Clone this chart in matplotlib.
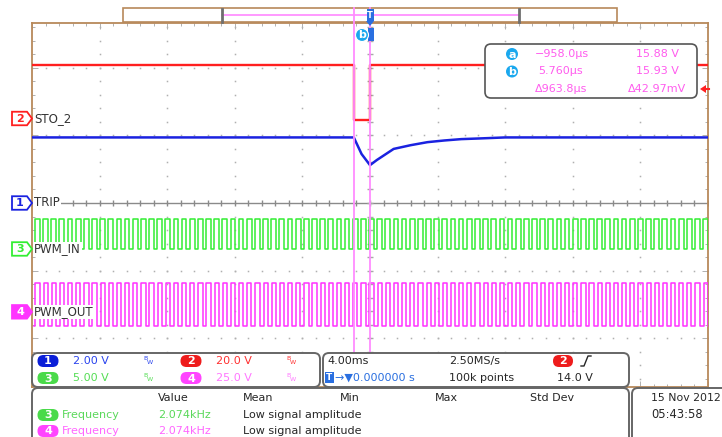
import numpy as np
import matplotlib
matplotlib.use("Agg")
import matplotlib.pyplot as plt
from matplotlib.patches import FancyBboxPatch, Rectangle, Polygon, Circle
from matplotlib.transforms import blended_transform_factory

plt.rcParams['font.family'] = ['DejaVu Sans']

W, H = 722, 437

# ---------------- acquisition settings ----------------
time_per_div = 4.0                      # ms / div
t_window = (-20.0, 20.0)                # ms
volts_per_div = {1: 2.0, 2: 20.0, 3: 5.0, 4: 25.0}
ground_div = {1: 0.0, 2: 1.25, 3: -0.68, 4: -1.61}   # ground level, divisions from centre
channel_names = {1: "TRIP", 2: "STO_2", 3: "PWM_IN", 4: "PWM_OUT"}
channel_colors = {1: "#1a22e0", 2: "#ff1f1f", 3: "#33ee33", 4: "#ff33ff"}

# ---------------- waveforms ----------------
# ch2 STO_2 (V)
sto_t = [-20.0, -0.958, -0.958, 0.00576, 0.00576, 20.0]
sto_v = [15.9, 15.9, -0.5, -0.5, 15.9, 15.9]

# ch1 TRIP (V)
trip_t = [-20.0, -0.958, -0.5, 0.0, 0.4, 1.4, 2.4, 3.4, 4.4, 5.4, 6.5, 8.0, 20.0]
trip_v = [1.94, 1.94, 1.45, 1.12, 1.27, 1.60, 1.71, 1.80, 1.85, 1.89, 1.91, 1.94, 1.94]

# ch3 / ch4 PWM
pwm_freq_khz = 2.074
pwm_in_levels = (0.0, 2.2)
pwm_out_levels = (-5.2, 10.7)
pwm_in_duty = 0.58
pwm_out_duty = 0.52
pwm_in_first_rise = -19.82      # ms
pwm_out_first_rise = -19.80     # ms

# cursors
cursor_a_t = -0.958
cursor_b_t = 0.00576
cursor_rows = [("a", "\u2212958.0\u00b5s", "15.88 V"),
               ("b", "5.760\u00b5s", "15.93 V"),
               (None, "\u0394963.8\u00b5s", "\u039442.97mV")]

# measurement table
meas_header = ["Value", "Mean", "Min", "Max", "Std Dev"]
meas_rows = [(3, "Frequency", "2.074kHz", "Low signal amplitude"),
             (4, "Frequency", "2.074kHz", "Low signal amplitude")]


def to_div(ch, volts):
    return ground_div[ch] + np.asarray(volts, dtype=float) / volts_per_div[ch]


def pwm_steps(first_rise, freq_khz, duty, lo, hi, t_start=-19.86, t_end=20.0):
    period = 1.0 / freq_khz
    ts, vs = [t_start], [lo]
    for r in np.arange(first_rise, t_end, period):
        ts += [r, r]
        vs += [lo, hi]
        f = r + duty * period
        if f < t_end:
            ts += [f, f]
            vs += [hi, lo]
    ts.append(t_end)
    vs.append(vs[-1])
    return np.array(ts), np.array(vs)


fig = plt.figure(figsize=(W / 100, H / 100), dpi=100)
fig.patch.set_facecolor("white")

# ---------------- graticule axes ----------------
px_top, px_bot, px_left, px_right = 23, 387, 32, 708
ax = fig.add_axes([px_left / W, 1 - px_bot / H, (px_right - px_left) / W, (px_bot - px_top) / H])
ax.set_zorder(1)
ax.set_xlim(*t_window)
div_px = (px_right - px_left) / 10.0
y_top = (203 - px_top) / div_px
y_bot = (203 - px_bot) / div_px
ax.set_ylim(y_bot, y_top)
ax.set_facecolor("white")
for s in ax.spines.values():
    s.set_color("#b8895a")
    s.set_linewidth(1.3)
ax.set_xticks(np.arange(-20, 20.1, time_per_div))
ax.set_xticks(np.arange(-20, 20.1, time_per_div / 5), minor=True)
ax.set_yticks(np.arange(-2, 2.1, 1))
ax.set_yticks(np.arange(-2.6, 2.61, 0.2), minor=True)
ax.tick_params(which="both", direction="in", top=True, right=True,
               labelbottom=False, labelleft=False, color="#b0b0b0", width=0.7)
ax.tick_params(which="major", length=4)
ax.tick_params(which="minor", length=2.5)

dot = dict(linestyle="none", marker="s", markersize=1.1, color="#b0b0b0",
           markeredgewidth=0, zorder=1)
minor_y = np.arange(-2.6, 2.61, 0.2)
minor_x = np.arange(-20, 20.01, time_per_div / 5)
for gx in np.arange(-16, 16.1, time_per_div):
    if abs(gx) > 1e-9:
        ax.plot(np.full_like(minor_y, gx), minor_y, **dot)
for gy in [-2, -1, 1, 2]:
    ax.plot(minor_x, np.full_like(minor_x, gy), **dot)

# centre axes with tick marks
ax.axhline(0, color="#8a8a8a", lw=1.0, zorder=2)
ax.plot(minor_x, np.zeros_like(minor_x), linestyle="none", marker="|",
        markersize=5, color="#8a8a8a", zorder=2)
ax.plot(np.zeros_like(minor_y), minor_y, linestyle="none", marker="_",
        markersize=5, color="#a8a8a8", zorder=2)

# ---------------- traces ----------------
ax.plot(trip_t, to_div(1, trip_v), color=channel_colors[1], lw=1.8, zorder=4)
ax.plot(sto_t, to_div(2, sto_v), color=channel_colors[2], lw=1.7, zorder=4)
t3, v3 = pwm_steps(pwm_in_first_rise, pwm_freq_khz, pwm_in_duty, *pwm_in_levels)
ax.plot(t3, to_div(3, v3), color=channel_colors[3], lw=1.1, zorder=3)
t4, v4 = pwm_steps(pwm_out_first_rise, pwm_freq_khz, pwm_out_duty, *pwm_out_levels)
ax.plot(t4, to_div(4, v4), color=channel_colors[4], lw=1.1, zorder=3)

# ---------------- overlay (screen annotations) ----------------
ov = fig.add_axes([0, 0, 1, 1])
ov.set_zorder(2)
ov.set_xlim(0, W)
ov.set_ylim(H, 0)
ov.axis("off")
ov.patch.set_alpha(0)

tx_time = blended_transform_factory(ax.transData, ov.transData)
tx_level = blended_transform_factory(ov.transData, ax.transData)

FS = 8
dark = "#262626"

# top memory bar
ov.add_patch(Rectangle((123, 8), 494, 14, facecolor="white", edgecolor="#b8895a", lw=1.2))
ov.plot([222, 519], [14.6, 14.6], color="#ff88ff", lw=1.2)
ov.plot([222, 222], [8.5, 21.5], color="#6f6f6f", lw=2)
ov.plot([519, 519], [8.5, 21.5], color="#6f6f6f", lw=2)

# cursor lines
for ct in (cursor_a_t, cursor_b_t):
    ov.plot([ct, ct], [8, 352], transform=tx_time, color="#ff8cff", lw=1.3, zorder=3)

# trigger marker at t=0
ov.add_patch(Rectangle((366.5, 9), 7, 12, facecolor="#2a6fe0", edgecolor="none", zorder=5))
ov.text(370, 15, "T", color="white", fontsize=6, ha="center", va="center",
        fontweight="bold", zorder=6)
ov.add_patch(Polygon([(366, 21), (374, 21), (370, 26)], closed=True,
                     facecolor="#2a6fe0", edgecolor="none", zorder=5))
ov.add_patch(Rectangle((368, 28), 6, 13, facecolor="#2a6fe0", edgecolor="none", zorder=5))
ov.add_patch(Circle((362, 35), 6.5, facecolor="#1aa8ee", edgecolor="white", lw=0.8, zorder=6))
ov.text(362, 35.5, "b", color="white", fontsize=8, fontweight="bold",
        ha="center", va="center", zorder=7)

# cursor readout box
ov.add_patch(FancyBboxPatch((485, 44), 212, 54, boxstyle="round,pad=0,rounding_size=6",
                            facecolor="white", edgecolor="#555555", lw=1.2, zorder=4))
cur_col = "#ff5cee"
for i, (tag, tval, vval) in enumerate(cursor_rows):
    yy = 54 + 17.5 * i
    if tag:
        ov.add_patch(Circle((512, yy), 6, facecolor="#1aa8ee", edgecolor="none", zorder=5))
        ov.text(512, yy + 0.5, tag, color="white", fontsize=8, fontweight="bold",
                ha="center", va="center", zorder=6)
    ov.text(535 if i != 1 else 538, yy, tval, color=cur_col, fontsize=FS, va="center", zorder=6)
    ov.text(636 if i != 2 else 628, yy, vval, color=cur_col, fontsize=FS, va="center", zorder=6)

# trigger level arrow (right edge)
ov.add_patch(Polygon([(700, 89), (706, 85), (706, 93)], closed=True,
                     facecolor="#ff2020", edgecolor="none", zorder=5))
ov.plot([705, 709], [89, 89], color="#ff2020", lw=1.5, zorder=5)

# channel ground tags and names
for ch in (1, 2, 3, 4):
    yd = ground_div[ch]
    col = channel_colors[ch]
    filled = ch == 4
    pts = [(12, -0.1), (27, -0.1), (32, 0.0), (27, 0.1), (12, 0.1)]
    ov.add_patch(Polygon([(x, yd + dy) for x, dy in pts], closed=True, transform=tx_level,
                         facecolor=col if filled else "white", edgecolor=col, lw=1.3, zorder=5))
    ov.text(20, yd, str(ch), transform=tx_level, color="white" if filled else col,
            fontsize=8, fontweight="bold", ha="center", va="center", zorder=6)
    ov.text(34, yd, channel_names[ch], transform=tx_level, color="#333333", fontsize=8.5,
            ha="left", va="center", zorder=6,
            bbox=dict(facecolor="white", edgecolor="none", pad=0.6))


def badge(x, y, label, color, w=21, h=12):
    ov.add_patch(FancyBboxPatch((x - w / 2, y - h / 2), w, h,
                                boxstyle="round,pad=0,rounding_size=6",
                                facecolor=color, edgecolor="none", zorder=6))
    ov.text(x, y + 0.5, label, color="white", fontsize=8, fontweight="bold",
            ha="center", va="center", zorder=7)


def bw(x, y, color):
    ov.text(x, y - 2.5, "B", color=color, fontsize=4.5, ha="left", va="center", zorder=7)
    ov.text(x + 3.3, y + 1.5, "W", color=color, fontsize=4.5, ha="left", va="center", zorder=7)


panel_kw = dict(boxstyle="round,pad=0,rounding_size=6", facecolor="white",
                edgecolor="#666666", lw=1.4, zorder=5)

# channel scale panel
ov.add_patch(FancyBboxPatch((32, 353), 288, 34, **panel_kw))
scale_layout = [(1, 48, 361, "#0a1ed8", "#2a44ee"),
                (2, 191, 361, "#ee1c1c", "#ff3030"),
                (3, 48, 378, "#4ada4a", "#55dd55"),
                (4, 191, 378, "#ff44ff", "#ff77ff")]
for ch, bx, by, bcol, tcol in scale_layout:
    badge(bx, by, str(ch), bcol)
    ov.text(bx + 25, by, f"{volts_per_div[ch]:.2f} V" if volts_per_div[ch] < 10
            else f"{volts_per_div[ch]:.1f} V", color=tcol, fontsize=FS, va="center", zorder=7)
    bw(bx + 95, by, tcol)

# timebase / trigger panel
ov.add_patch(FancyBboxPatch((323, 353), 306, 34, **panel_kw))
ov.text(327, 361, f"{time_per_div:.2f}ms", color=dark, fontsize=FS, va="center", zorder=7)
ov.text(449, 361, "2.50MS/s", color=dark, fontsize=FS, va="center", zorder=7)
badge(563, 361, "2", "#ee1c1c", w=20)
ov.plot([581, 584, 588, 591], [366, 366, 356, 356], color=dark, lw=1.0, zorder=7)
ov.add_patch(Rectangle((325, 372), 9, 11, facecolor="#2a6fe0", edgecolor="none", zorder=6))
ov.text(329.5, 377.5, "T", color="white", fontsize=6.5, fontweight="bold",
        ha="center", va="center", zorder=7)
ov.text(335, 378, "\u2192\u25bc0.000000 s", color="#2a6fe0", fontsize=FS, va="center", zorder=7)
ov.text(449, 378, "100k points", color=dark, fontsize=FS, va="center", zorder=7)
ov.text(557, 378, "14.0 V", color=dark, fontsize=FS, va="center", zorder=7)

# measurement panel
ov.add_patch(FancyBboxPatch((32, 388), 597, 62, **panel_kw))
for label, hx in zip(meas_header, [158, 243, 340, 435, 530]):
    ov.text(hx, 398, label, color=dark, fontsize=FS, va="center", zorder=7)
row_cols = {3: ("#4ada4a", "#5ad85a"), 4: ("#ff44ff", "#ff66ff")}
for i, (ch, name, val, mean) in enumerate(meas_rows):
    yy = 415 + 16 * i
    bcol, tcol = row_cols[ch]
    badge(48, yy, str(ch), bcol)
    ov.text(62, yy, name, color=tcol, fontsize=FS, va="center", zorder=7)
    ov.text(158, yy, val, color=tcol, fontsize=FS, va="center", zorder=7)
    ov.text(243, yy, mean, color=dark, fontsize=FS, va="center", zorder=7)

# date / time panel
ov.add_patch(FancyBboxPatch((632, 388), 110, 62, **panel_kw))
ov.text(651, 398, "15 Nov 2012", color=dark, fontsize=7.8, va="center", zorder=7)
ov.text(651, 414, "05:43:58", color=dark, fontsize=8.3, va="center", zorder=7)

fig.savefig("out.png", dpi=100, facecolor="white")
